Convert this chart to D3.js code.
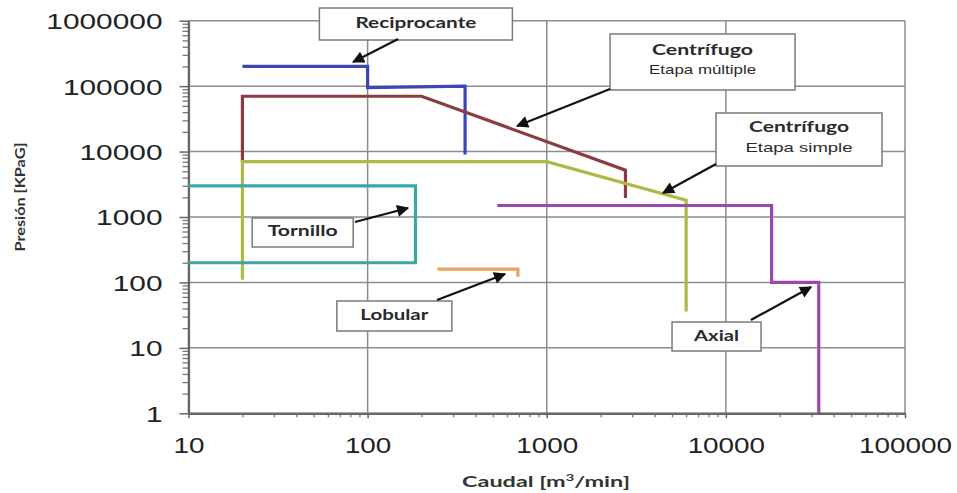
<!DOCTYPE html>
<html>
<head>
<meta charset="utf-8">
<script src="https://cdnjs.cloudflare.com/ajax/libs/d3/7.8.5/d3.min.js"></script>
<style>
  body { margin: 0; background: #fff; }
  svg { display: block; }
</style>
</head>
<body>
<div id="chart"></div>
<script>
var svgWidth = 957;
var svgHeight = 493;

// plot area (pixels)
var margin = { top: 20.7, right: 52, bottom: 79.7, left: 188.5 };
var width = svgWidth - margin.left - margin.right;
var height = svgHeight - margin.top - margin.bottom;

// axis ticks
var xTicks = [10, 100, 1000, 10000, 100000];
var yTicks = [1, 10, 100, 1000, 10000, 100000, 1000000];

// series: [caudal m3/min, presion KPaG]
var reciprocante = [[20, 200000], [100, 200000], [100, 95000], [350, 100000], [350, 9000]];
var centrifMultiple = [[20, 7000], [20, 70000], [200, 70000], [2750, 5200], [2750, 1950]];
var centrifSimple = [[20, 110], [20, 7000], [1000, 7000], [6000, 1800], [6000, 36]];
var tornillo = [[10, 3000], [185, 3000], [185, 200], [10, 200]];
var lobular = [[245, 160], [690, 160], [690, 122]];
var axial = [[530, 1500], [18000, 1500], [18000, 100], [33000, 100], [33000, 1]];

var seriesColors = ["#3c46b4", "#8a3c40", "#b0b848", "#3aa6a6", "#eba060", "#9a48ac"];
var seriesData = [reciprocante, centrifMultiple, centrifSimple, tornillo, lobular, axial];

// annotation boxes: text lines, box centre [x, y] in data units, arrow start -> tip in data units
var labelLines = [["Reciprocante"], ["Centrífugo", "Etapa múltiple"], ["Centrífugo", "Etapa simple"],
                  ["Tornillo"], ["Lobular"], ["Axial"]];
var labelCenters = [[186, 890000], [7410, 234000], [25600, 15300], [43.4, 580], [141, 30.7], [8870, 14.9]];
var arrowFrom = [[148, 525000], [2255, 90300], [8810, 6460], [85, 838], [244, 53.8], [13800, 26.7]];
var arrowTo = [[83, 234000], [683, 24600], [4460, 2330], [168, 1370], [585, 134.6], [29900, 85]];
var boxSizes = [[193, 32], [185, 56], [166, 53], [101, 29], [115, 30], [89, 29]];
var lineWidths = [[121], [101, 107], [100, 107], [70], [68], [45]];

var svg = d3.select("#chart")
  .append("svg")
  .attr("width", svgWidth)
  .attr("height", svgHeight);

var defs = svg.append("defs");
defs.append("marker")
  .attr("id", "head")
  .attr("viewBox", "0 0 10 10")
  .attr("refX", 9)
  .attr("refY", 5)
  .attr("markerWidth", 7)
  .attr("markerHeight", 5.5)
  .attr("markerUnits", "strokeWidth")
  .attr("orient", "auto")
  .append("path")
  .attr("d", "M0,0 L10,5 L0,10 z")
  .attr("fill", "#111");

var chart = svg.append("g")
  .attr("transform", `translate(${margin.left}, ${margin.top})`);

// scales
var x = d3.scaleLog().domain([10, 100000]).range([0, width]);
var y = d3.scaleLog().domain([1, 1000000]).range([height, 0]);

// grid
chart.append("g").selectAll("line").data(xTicks).enter()
  .append("line")
  .attr("x1", d => x(d)).attr("x2", d => x(d))
  .attr("y1", 0).attr("y2", height)
  .attr("stroke", "#8c8c8c").attr("stroke-width", 1.5);

chart.append("g").selectAll("line").data(yTicks).enter()
  .append("line")
  .attr("x1", 0).attr("x2", width)
  .attr("y1", d => y(d)).attr("y2", d => y(d))
  .attr("stroke", "#8c8c8c").attr("stroke-width", 1.5);

// minor ticks
var xMinor = [];
xTicks.slice(0, -1).forEach(function(d) { for (var m = 2; m < 10; m++) xMinor.push(d * m); });
var yMinor = [];
yTicks.slice(0, -1).forEach(function(d) { for (var m = 2; m < 10; m++) yMinor.push(d * m); });

chart.append("g")
  .attr("transform", `translate(0, ${height})`)
  .call(d3.axisBottom(x).tickValues(xMinor).tickSize(4).tickFormat(""))
  .call(g => g.select(".domain").remove())
  .selectAll("line").attr("stroke", "#777").attr("stroke-width", 1.3);

chart.append("g")
  .call(d3.axisLeft(y).tickValues(yMinor).tickSize(6).tickFormat(""))
  .call(g => g.select(".domain").remove())
  .selectAll("line").attr("stroke", "#777").attr("stroke-width", 1.3);

// main axes
var xAxis = chart.append("g")
  .attr("transform", `translate(0, ${height})`)
  .call(d3.axisBottom(x).tickValues(xTicks).tickSize(5).tickSizeOuter(0).tickPadding(19).tickFormat(d3.format("d")));

var yAxis = chart.append("g")
  .call(d3.axisLeft(y).tickValues(yTicks).tickSize(9).tickSizeOuter(0).tickPadding(17).tickFormat(d3.format("d")));

[xAxis, yAxis].forEach(function(ax) {
  ax.select(".domain").attr("stroke", "#666").attr("stroke-width", 2.2);
  ax.selectAll(".tick line").attr("stroke", "#666").attr("stroke-width", 1.5);
  ax.selectAll(".tick text")
    .attr("fill", "#222")
    .style("font-family", "'Liberation Sans', Arial, sans-serif")
    .style("font-size", "22px");
});
xAxis.selectAll(".tick text")
  .attr("textLength", d => String(d).length * 15.5)
  .attr("lengthAdjust", "spacingAndGlyphs");
yAxis.selectAll(".tick text")
  .attr("dy", "0.36em")
  .attr("textLength", d => String(d).length * 16.6)
  .attr("lengthAdjust", "spacingAndGlyphs");

// series lines
var line = d3.line()
  .x(d => x(d[0]))
  .y(d => y(d[1]));

chart.append("g").selectAll("path").data(seriesData).enter()
  .append("path")
  .attr("d", line)
  .attr("fill", "none")
  .attr("stroke", (d, i) => seriesColors[i])
  .attr("stroke-width", 3.2)
  .attr("stroke-linejoin", "miter");

// annotation boxes
var notes = chart.append("g").selectAll("g").data(labelLines).enter()
  .append("g")
  .attr("transform", (d, i) => `translate(${x(labelCenters[i][0])}, ${y(labelCenters[i][1])})`);

notes.append("rect")
  .attr("x", (d, i) => -boxSizes[i][0] / 2)
  .attr("y", (d, i) => -boxSizes[i][1] / 2)
  .attr("width", (d, i) => boxSizes[i][0])
  .attr("height", (d, i) => boxSizes[i][1])
  .attr("fill", "#fff")
  .attr("stroke", "#7a7a7a")
  .attr("stroke-width", 1.5);

notes.each(function(lines, i) {
  var g = d3.select(this);
  lines.forEach(function(t, j) {
    var two = lines.length > 1;
    g.append("text")
      .attr("text-anchor", "middle")
      .attr("dominant-baseline", "central")
      .attr("y", two ? (j === 0 ? -13 : 8) : -2)
      .attr("fill", "#2a2a2a")
      .style("font-family", j === 0 ? "Lato, 'Open Sans', sans-serif" : "'Liberation Sans', Arial, sans-serif")
      .style("font-weight", j === 0 ? "bold" : "normal")
      .style("font-size", j === 0 ? "15px" : "13px")
      .attr("textLength", lineWidths[i][j])
      .attr("lengthAdjust", "spacingAndGlyphs")
      .text(t);
  });
});

// arrows
chart.append("g").selectAll("line").data(arrowFrom).enter()
  .append("line")
  .attr("x1", d => x(d[0]))
  .attr("y1", d => y(d[1]))
  .attr("x2", (d, i) => x(arrowTo[i][0]))
  .attr("y2", (d, i) => y(arrowTo[i][1]))
  .attr("stroke", "#111")
  .attr("stroke-width", 2.2)
  .attr("marker-end", "url(#head)");

// axis titles
svg.append("text")
  .attr("transform", "translate(25, 197) rotate(-90)")
  .attr("text-anchor", "middle")
  .attr("fill", "#333")
  .style("font-family", "Lato, 'Open Sans', sans-serif")
  .style("font-weight", "bold")
  .style("font-size", "14px")
  .attr("textLength", 109)
  .attr("lengthAdjust", "spacingAndGlyphs")
  .text("Presión [KPaG]");

var xTitle = svg.append("text")
  .attr("x", 546)
  .attr("y", 487)
  .attr("text-anchor", "middle")
  .attr("fill", "#333")
  .style("font-family", "Lato, 'Open Sans', sans-serif")
  .style("font-weight", "bold")
  .style("font-size", "16px")
  .attr("textLength", 168)
  .attr("lengthAdjust", "spacingAndGlyphs");
xTitle.append("tspan").text("Caudal [m");
xTitle.append("tspan").attr("dy", -6).style("font-size", "10px").text("3");
xTitle.append("tspan").attr("dy", 6).text("/min]");
</script>
</body>
</html>
